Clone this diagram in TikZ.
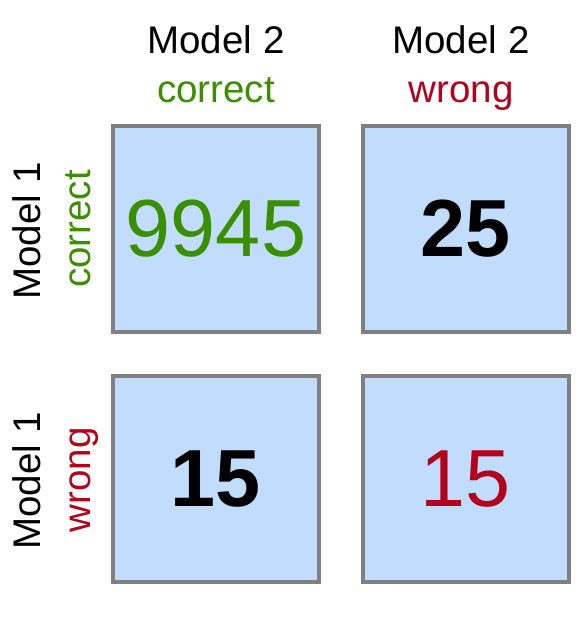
\documentclass[tikz,border=0pt]{standalone}
\usepackage{fontspec}
\setmainfont{Liberation Sans}
\definecolor{cellfill}{HTML}{C1DCFC}
\definecolor{celldraw}{HTML}{808080}
\definecolor{okgreen}{HTML}{3A8F00}
\definecolor{badred}{HTML}{B3001B}
\begin{document}
\begin{tikzpicture}[x=1pt,y=1pt,
  cell/.style={draw=celldraw, fill=cellfill, line width=4.5pt, minimum width=206pt, minimum height=206pt, inner sep=0pt, font=\fontsize{81}{90}\selectfont},
  lab/.style={anchor=base, inner sep=0pt, font=\fontsize{38.5}{44}\selectfont},
  vlab/.style={lab, rotate=90}]
\fill[white] (0,0) rectangle (586,632);
\useasboundingbox (0,0) rectangle (586,632);
% cells
\node[cell, text=okgreen] (cc) at (216,403) {9945};
\node[cell] (cw) at (466,403) {\bfseries 25};
\node[cell] (wc) at (216,153) {\bfseries 15};
\node[cell, text=badred] (ww) at (466,153) {15};
% column labels
\node[lab] (m2a) at (216,578) {Model 2};
\node[lab, text=okgreen] (c2a) at (216,529) {correct};
\node[lab] (m2b) at (461,578) {Model 2};
\node[lab, text=badred] (w2b) at (461,529) {wrong};
% row labels
\node[vlab] (m1a) at (40,401) {Model 1};
\node[vlab, text=okgreen] (c1a) at (90,403) {correct};
\node[vlab] (m1b) at (40,151) {Model 1};
\node[vlab, text=badred] (w1b) at (90,152) {wrong};
\end{tikzpicture}
\end{document}
